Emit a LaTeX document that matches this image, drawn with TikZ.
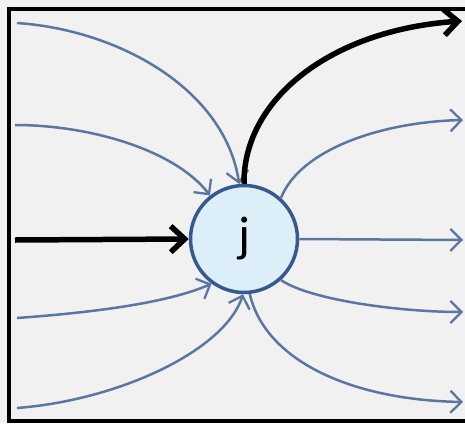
\documentclass[tikz,border=0pt]{standalone}
\usepackage{fontspec}
\setmainfont{Carlito}
\usetikzlibrary{arrows.meta}
\definecolor{bgc}{HTML}{F1F1F1}
\definecolor{linec}{HTML}{5B76A2}
\definecolor{circd}{HTML}{365A90}
\definecolor{circf}{HTML}{DCEEF8}
\tikzset{
  thin arrow/.style={draw=linec, line width=2.5pt, -{Straight Barb[length=11pt,width=22pt,line width=2.3pt]}},
  thick arrow/.style={draw=black, line width=5.5pt, -{Straight Barb[length=14pt,width=26pt,line width=5.5pt]}},
  nodecirc/.style={circle, draw=circd, fill=circf, line width=3.5pt, minimum size=107pt, inner sep=0pt, font=\fontsize{50}{50}\selectfont},
  frame/.style={draw=black, line width=4pt}
}
\begin{document}
\begin{tikzpicture}[x=1pt,y=-1pt]
\fill[bgc] (0,0) rectangle (465,423);
\useasboundingbox (0,0) rectangle (465,423);
\draw[frame] (470,8.5) -- (8.5,8.5) -- (8.5,420.5) -- (470,420.5);

\node[nodecirc] (j) at (244,239) {j};

% free ends
\coordinate (i1) at (17,23);
\coordinate (i2) at (15,125);
\coordinate (i3) at (15,240);
\coordinate (i4) at (17,318);
\coordinate (i5) at (17,408);
\coordinate (o6) at (462,21);
\coordinate (o7) at (463,120);
\coordinate (o8) at (463,240);
\coordinate (o9) at (463,312);
\coordinate (o10) at (463,402);

% incoming
\draw[thin arrow] (i1) .. controls (120,30) and (225,90) .. (j.95);
\draw[thin arrow] (i2) .. controls (90,125) and (175,150) .. (j.128);
\draw[thick arrow] (i3) -- (j.west);
\draw[thin arrow] (i4) .. controls (100,312) and (170,302) .. (j.234);
\draw[thin arrow] (i5) .. controls (120,400) and (225,350) .. (j.269);

% outgoing
\draw[thick arrow] (j.90) .. controls (243,100) and (330,30) .. (o6);
\draw[thin arrow] (j.48) .. controls (300,150) and (380,122) .. (o7);
\draw[thin arrow] (j.east) -- (o8);
\draw[thin arrow] (j.312) .. controls (310,300) and (400,312) .. (o9);
\draw[thin arrow] (j.276) .. controls (265,360) and (350,400) .. (o10);
\end{tikzpicture}
\end{document}
